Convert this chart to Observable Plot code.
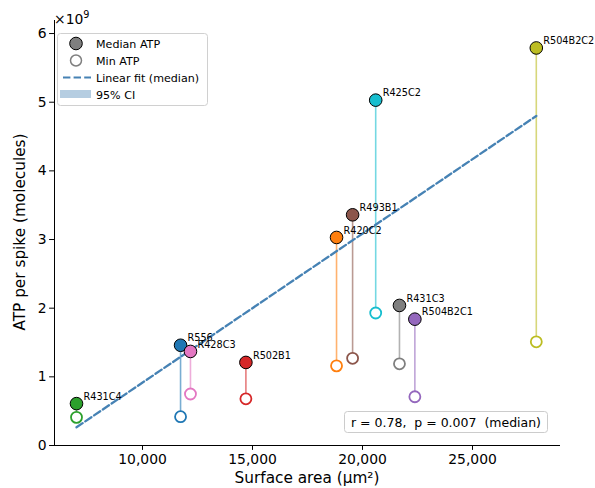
<!DOCTYPE html>
<html>
<head>
<meta charset="utf-8">
<script src="https://cdn.jsdelivr.net/npm/d3@7"></script>
<script src="https://cdn.jsdelivr.net/npm/@observablehq/plot@0.6"></script>
<style>
  html, body { margin: 0; padding: 0; background: #fff; }
  #chart svg { display: block; }
</style>
</head>
<body>
<div id="chart"></div>
<script>
// Data (ATP values in units of 1e9 molecules)
const names      = ["R431C4","R556","R428C3","R502B1","R420C2","R493B1","R425C2","R431C3","R504B2C1","R504B2C2"];
const surfaceArea = [7000, 11730, 12180, 14700, 18820, 19550, 20600, 21680, 22380, 27900];
const medianATP  = [0.61, 1.46, 1.37, 1.21, 3.03, 3.36, 5.03, 2.04, 1.84, 5.79];
const minATP     = [0.41, 0.42, 0.75, 0.68, 1.16, 1.27, 1.93, 1.19, 0.71, 1.51];
const colors     = ["#2ca02c","#1f77b4","#e377c2","#d62728","#ff7f0e","#8c564b","#17becf","#7f7f7f","#9467bd","#bcbd22"];
const fitX = [7000, 27900];
const fitY = [0.265, 4.80];
const xTicks = [10000, 15000, 20000, 25000];
const yTicks = [0, 1, 2, 3, 4, 5, 6];
const statsText = "r = 0.78,  p = 0.007  (median)";

const rows = names.map((n, i) => ({name: n, x: surfaceArea[i], med: medianATP[i], min: minATP[i], color: colors[i]}));
const fit = fitX.map((x, i) => ({x, y: fitY[i]}));

const font = "DejaVu Sans, Liberation Sans, sans-serif";

const chart = Plot.plot({
  width: 595,
  height: 488,
  marginLeft: 54,
  marginRight: 35,
  marginTop: 20,
  marginBottom: 43,
  style: {fontFamily: font, background: "white", color: "black"},
  x: {domain: [6000, 29000]},
  y: {domain: [0, 6.19]},
  marks: [
    Plot.ruleX(rows, {x: "x", y1: "min", y2: "med", stroke: "color", strokeWidth: 1.6, strokeOpacity: 0.6}),
    Plot.line(fit, {x: "x", y: "y", stroke: "#4682b4", strokeWidth: 2.3, strokeDasharray: "7.4,3.2"}),
    Plot.dot(rows, {x: "x", y: "min", r: 5.5, fill: "white", stroke: "color", strokeWidth: 1.8}),
    Plot.dot(rows, {x: "x", y: "med", r: 6.3, fill: "color", stroke: "black", strokeWidth: 1}),
    Plot.text(rows, {x: "x", y: "med", text: "name", dx: 7, dy: -7, textAnchor: "start", fontSize: 9.7, fill: "black"}),
    Plot.axisX({ticks: xTicks, tickFormat: d3.format(","), tickSize: 4.9, tickPadding: 4, fontSize: 13.9, label: null}),
    Plot.axisY({ticks: yTicks, tickFormat: d => String(d), tickSize: 4.9, tickPadding: 3, fontSize: 13.9, label: null}),
    Plot.ruleY([0], {stroke: "black", strokeWidth: 1}),
    Plot.ruleX([6000], {stroke: "black", strokeWidth: 1})
  ]
});

document.getElementById("chart").appendChild(chart);

const svg = d3.select(chart);
// scale multiplier
const mult = svg.append("text").attr("x", 54).attr("y", 24).attr("text-anchor", "start")
  .attr("font-size", 13.9).attr("font-family", font).attr("fill", "black");
mult.append("tspan").text("×10");
mult.append("tspan").text("9").attr("font-size", 9.7).attr("dy", -6);

// axis labels
svg.append("text").attr("x", 307).attr("y", 483).attr("text-anchor", "middle")
  .attr("font-size", 15.3).attr("font-family", font).attr("fill", "black").text("Surface area (µm²)");
svg.append("text").attr("transform", "translate(25,232) rotate(-90)").attr("text-anchor", "middle")
  .attr("font-size", 15.3).attr("font-family", font).attr("fill", "black").text("ATP per spike (molecules)");

// legend
const lg = svg.append("g").attr("font-family", font).attr("font-size", 11.1).attr("fill", "black").attr("text-anchor", "start");
lg.append("rect").attr("x", 57.5).attr("y", 33.5).attr("width", 150).attr("height", 72).attr("rx", 3)
  .attr("fill", "white").attr("fill-opacity", 0.8).attr("stroke", "#d0d0d0");
lg.append("circle").attr("cx", 76).attr("cy", 43.5).attr("r", 6.3).attr("fill", "#7f7f7f").attr("stroke", "black");
lg.append("text").attr("x", 96).attr("y", 47.5).text("Median ATP");
lg.append("circle").attr("cx", 76).attr("cy", 60.5).attr("r", 5.5).attr("fill", "white").attr("stroke", "#7f7f7f").attr("stroke-width", 1.5);
lg.append("text").attr("x", 96).attr("y", 64.5).text("Min ATP");
lg.append("line").attr("x1", 63).attr("x2", 91).attr("y1", 77.5).attr("y2", 77.5).attr("stroke", "#4682b4").attr("stroke-width", 2.2).attr("stroke-dasharray", "7.4,3.2");
lg.append("text").attr("x", 96).attr("y", 81.5).text("Linear fit (median)");
lg.append("rect").attr("x", 60).attr("y", 90).attr("width", 31).attr("height", 8).attr("fill", "#4682b4").attr("fill-opacity", 0.4);
lg.append("text").attr("x", 96).attr("y", 98.5).text("95% CI");

// stats box
const sb = svg.append("g").attr("font-family", font).attr("fill", "black");
sb.append("rect").attr("x", 344.5).attr("y", 411.5).attr("width", 203).attr("height", 21).attr("rx", 3)
  .attr("fill", "white").attr("stroke", "#cccccc");
sb.append("text").attr("x", 446).attr("y", 426.5).attr("text-anchor", "middle").attr("font-size", 12.5)
  .style("white-space", "pre").attr("xml:space", "preserve").text(statsText);
</script>
</body>
</html>
